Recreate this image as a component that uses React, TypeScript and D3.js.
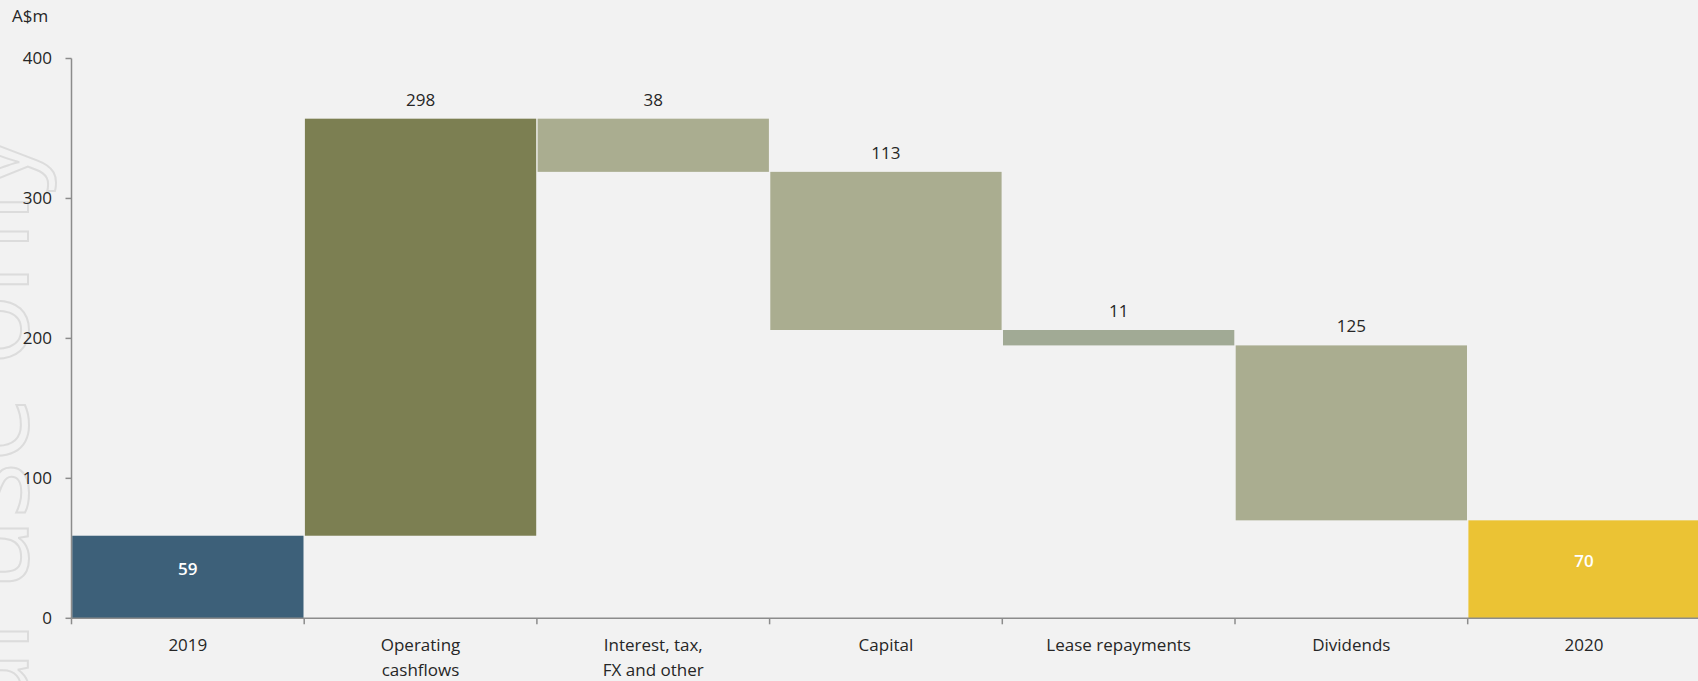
import React from "react";
import * as d3 from "d3";

// ---- data ----
const categories = ["2019", "Operating cashflows", "Interest, tax, FX and other", "Capital", "Lease repayments", "Dividends", "2020"];
const categoryLines = [["2019"], ["Operating", "cashflows"], ["Interest, tax,", "FX and other"], ["Capital"], ["Lease repayments"], ["Dividends"], ["2020"]];
// bar movements (A$m); first and last are totals
const barValues = [59, 298, -38, -113, -11, -125, 70];
const barKinds = ["total", "increase", "decrease", "decrease", "lease", "decrease", "final"];
const barLabels = ["59", "298", "38", "113", "11", "125", "70"];
const yTicks = [0, 100, 200, 300, 400];

const W = 1698;
const H = 681;
const FONT = "'Open Sans', 'DejaVu Sans', sans-serif";
const colors: Record<string, string> = {
  total: "#3D6079",
  increase: "#7C7F52",
  decrease: "#AAAD90",
  lease: "#A1AA95",
  final: "#EBC334",
};

export default function App() {
  const x0 = 71.5;
  const step = 232.7;
  const x = d3
    .scaleBand<string>()
    .domain(categories)
    .range([x0, x0 + step * categories.length])
    .paddingInner(0.006)
    .paddingOuter(0.003);
  const y = d3.scaleLinear().domain([0, 400]).range([618.3, 58.5]);

  // compute waterfall extents
  let running = 0;
  const bars = barValues.map((v, i) => {
    let lo: number, hi: number;
    if (barKinds[i] === "total" || barKinds[i] === "final") {
      lo = 0;
      hi = v;
      running = v;
    } else {
      const start = running;
      running = running + v;
      lo = Math.min(start, running);
      hi = Math.max(start, running);
    }
    return { cat: categories[i], lo, hi, kind: barKinds[i], label: barLabels[i] };
  });

  const axisColor = "#8C8C8C";
  const textColor = "#262626";

  return (
    <svg
      width={W}
      height={H}
      style={{ position: "absolute", left: 0, top: 0, display: "block" }}
      fontFamily={FONT}
    >
      <rect x={0} y={0} width={W} height={H} fill="#F2F2F2" />

      {/* watermark */}
      <text
        transform="translate(28,133) rotate(-90)"
        textAnchor="end"
        fontSize={118}
        fill="#F2F2F2"
        stroke="#DCDCDC"
        strokeWidth={2}
        fontFamily={FONT}
      >
        For personal use only
      </text>

      {/* bars */}
      {bars.map((b, i) => (
        <rect
          key={i}
          x={x(b.cat)!}
          y={y(b.hi)}
          width={x.bandwidth()}
          height={y(b.lo) - y(b.hi)}
          fill={colors[b.kind]}
        />
      ))}

      {/* bar labels */}
      {bars.map((b, i) => {
        const cx = x(b.cat)! + x.bandwidth() / 2;
        if (b.kind === "total" || b.kind === "final") {
          const cy = (y(b.lo) + y(b.hi)) / 2 - 8;
          return (
            <text key={i} x={cx} y={cy} dy="0.36em" textAnchor="middle" fontSize={17} fontWeight={600} fill="#FFFFFF">
              {b.label}
            </text>
          );
        }
        return (
          <text key={i} x={cx} y={y(b.hi) - 13} textAnchor="middle" fontSize={17} fill={textColor}>
            {b.label}
          </text>
        );
      })}

      {/* y axis */}
      <line x1={x0} x2={x0} y1={y(400)} y2={y(0)} stroke={axisColor} strokeWidth={1.5} />
      {yTicks.map((t) => (
        <g key={t}>
          <line x1={x0 - 6} x2={x0} y1={y(t)} y2={y(t)} stroke={axisColor} strokeWidth={1.5} />
          <text x={52} y={y(t)} dy="0.35em" textAnchor="end" fontSize={17} fill={textColor}>
            {t}
          </text>
        </g>
      ))}
      <text x={12} y={22} fontSize={17} fill={textColor}>
        A$m
      </text>

      {/* x axis */}
      <line x1={x0} x2={W} y1={y(0)} y2={y(0)} stroke={axisColor} strokeWidth={1.5} />
      {d3.range(categories.length + 1).map((i) => {
        const tx = x0 + x.step() * i;
        return <line key={i} x1={tx} x2={tx} y1={y(0)} y2={y(0) + 6} stroke={axisColor} strokeWidth={1.5} />;
      })}
      {categories.map((c, i) => {
        const cx = x(c)! + x.bandwidth() / 2;
        return (
          <text key={c} x={cx} y={651} textAnchor="middle" fontSize={17} fill={textColor}>
            {categoryLines[i].map((ln, j) => (
              <tspan key={j} x={cx} dy={j === 0 ? 0 : 25}>
                {ln}
              </tspan>
            ))}
          </text>
        );
      })}
    </svg>
  );
}
